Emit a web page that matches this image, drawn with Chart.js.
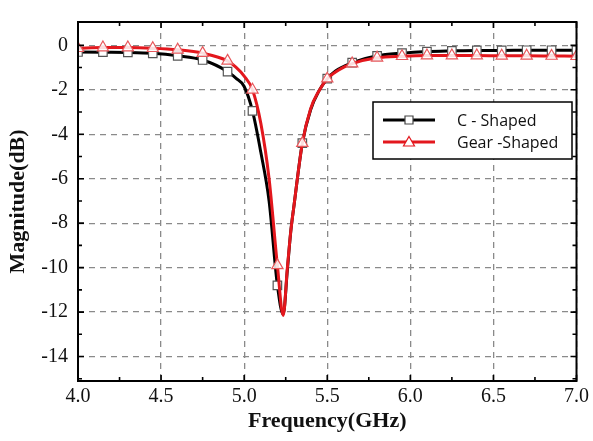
<!DOCTYPE html>
<html>
<head>
<meta charset="utf-8">
<script src="https://cdn.jsdelivr.net/npm/chart.js@4.4.1/dist/chart.umd.min.js"></script>
<style>
  html, body { margin: 0; padding: 0; background: #fff; }
</style>
</head>
<body>
<canvas id="Chart" width="593" height="441"></canvas>
<script>
// frequency points (GHz)
var freq = [4.0, 4.15, 4.3, 4.45, 4.6, 4.75, 4.9, 4.95, 5.0, 5.05, 5.1, 5.15, 5.2, 5.235, 5.26, 5.28, 5.3,
            5.35, 5.4, 5.45, 5.5, 5.55, 5.6, 5.65, 5.8, 5.95, 6.1, 6.25, 6.4, 6.55, 6.7, 6.85, 7.0];

// series 1 : C - Shaped (dB)
var cShaped = [-0.30, -0.31, -0.32, -0.36, -0.47, -0.66, -1.18, -1.48, -1.85, -2.95, -4.8, -7.0, -10.8, -12.1, -10.1, -8.4, -7.2,
               -4.4, -2.9, -2.05, -1.5, -1.15, -0.95, -0.78, -0.47, -0.35, -0.28, -0.25, -0.23, -0.23, -0.22, -0.22, -0.22];

// series 2 : Gear -Shaped (dB)
var gearShaped = [-0.13, -0.10, -0.10, -0.13, -0.20, -0.35, -0.70, -0.98, -1.38, -2.0, -3.5, -6.0, -9.9, -12.15, -10.0, -8.4, -7.2,
                  -4.4, -2.85, -2.05, -1.5, -1.2, -0.98, -0.82, -0.56, -0.49, -0.46, -0.46, -0.46, -0.47, -0.47, -0.48, -0.49];

var seriesNames = ["C - Shaped", "Gear -Shaped"];

// axis ticks
var xTicks = [4.0, 4.5, 5.0, 5.5, 6.0, 6.5, 7.0];
var yTicks = [0, -2, -4, -6, -8, -10, -12, -14];

var black = "#000000";
var red   = "#e3171d";
var gridColor = "#8a8a8a";
var serif = "'Liberation Serif', 'Times New Roman', serif";

// markers only every 0.15 GHz like the original plot
function markerRadius(r) {
  return function (c) {
    var k = (freq[c.dataIndex] - 4.0) / 0.15;
    return Math.abs(k - Math.round(k)) < 1e-6 ? r : 0;
  };
}

function points(vals) {
  return freq.map(function (f, i) { return { x: f, y: vals[i] }; });
}

// inner frame, inward tick marks and the boxed legend
var framePlugin = {
  id: "frame",
  afterDraw: function (chart) {
    var c = chart.ctx, a = chart.chartArea;
    var xs = chart.scales.x, ys = chart.scales.y;
    c.save();
    c.strokeStyle = "#000";
    c.lineWidth = 1.6;
    c.beginPath();
    var i, px, py;
    for (i = 0; i < xTicks.length; i++) {
      px = xs.getPixelForValue(xTicks[i]);
      c.moveTo(px, a.bottom); c.lineTo(px, a.bottom - 6);
      c.moveTo(px, a.top);    c.lineTo(px, a.top + 6);
      if (i < xTicks.length - 1) {
        px = xs.getPixelForValue((xTicks[i] + xTicks[i + 1]) / 2);
        c.moveTo(px, a.bottom); c.lineTo(px, a.bottom - 4);
        c.moveTo(px, a.top);    c.lineTo(px, a.top + 4);
      }
    }
    for (i = 0; i < yTicks.length; i++) {
      py = ys.getPixelForValue(yTicks[i]);
      c.moveTo(a.left, py);  c.lineTo(a.left + 6, py);
      c.moveTo(a.right, py); c.lineTo(a.right - 6, py);
      py = ys.getPixelForValue(yTicks[i] - 1);
      c.moveTo(a.left, py);  c.lineTo(a.left + 4, py);
      c.moveTo(a.right, py); c.lineTo(a.right - 4, py);
    }
    c.stroke();
    c.lineWidth = 2;
    c.strokeRect(a.left, a.top, a.right - a.left, a.bottom - a.top);

    // legend
    var lx = 373, ly = 102, lw = 199, lh = 57;
    c.fillStyle = "#fff";
    c.fillRect(lx, ly, lw, lh);
    c.lineWidth = 1.5;
    c.strokeRect(lx, ly, lw, lh);
    var rows = [ { y: 120, color: black, mark: "rect", edge: "#444" },
                 { y: 142, color: red,   mark: "tri",  edge: red } ];
    c.font = "16px 'Open Sans', 'Noto Sans', sans-serif";
    c.textBaseline = "middle";
    c.textAlign = "left";
    rows.forEach(function (r, k) {
      c.strokeStyle = r.color;
      c.lineWidth = 3;
      c.beginPath(); c.moveTo(383, r.y); c.lineTo(435, r.y); c.stroke();
      c.fillStyle = "#fff";
      c.strokeStyle = r.edge;
      c.lineWidth = 1.2;
      c.beginPath();
      if (r.mark === "rect") {
        c.rect(405, r.y - 4, 8, 8);
      } else {
        c.moveTo(409, r.y - 5.5); c.lineTo(414.5, r.y + 4); c.lineTo(403.5, r.y + 4); c.closePath();
      }
      c.fill(); c.stroke();
      c.fillStyle = "#111";
      c.fillText(seriesNames[k], 457, r.y + 1);
    });
    c.restore();
  }
};

var ctx = document.getElementById("Chart").getContext("2d");
var myChart = new Chart(ctx, {
  type: "line",
  data: {
    datasets: [
      {
        label: seriesNames[0],
        data: points(cShaped),
        borderColor: black,
        borderWidth: 3,
        cubicInterpolationMode: "monotone",
        pointStyle: "rect",
        pointRadius: markerRadius(6),
        pointBackgroundColor: "#fff",
        pointBorderColor: "#555",
        pointBorderWidth: 1.2,
        order: 2
      },
      {
        label: seriesNames[1],
        data: points(gearShaped),
        borderColor: red,
        borderWidth: 3,
        cubicInterpolationMode: "monotone",
        pointStyle: "triangle",
        pointRadius: markerRadius(6.5),
        pointBackgroundColor: "rgba(255,255,255,0.85)",
        pointBorderColor: "#e8585c",
        pointBorderWidth: 1.2,
        order: 1
      }
    ]
  },
  options: {
    responsive: false,
    animation: false,
    layout: { padding: { top: 8, right: 14, left: 0, bottom: 0 } },
    plugins: {
      legend: { display: false },
      tooltip: { enabled: false }
    },
    scales: {
      x: {
        type: "linear",
        min: 4,
        max: 7,
        afterBuildTicks: function (s) { s.ticks = xTicks.map(function (v) { return { value: v }; }); },
        afterFit: function (s) { s.height = 60; },
        grid: { color: gridColor, lineWidth: 1.3, drawTicks: false },
        border: { display: false, dash: [6, 5] },
        ticks: {
          padding: 4,
          maxRotation: 0,
          color: "#111",
          font: { family: serif, size: 20 },
          callback: function (v) { return Number(v).toFixed(1); }
        },
        title: {
          display: true,
          text: "Frequency(GHz)",
          color: "#111",
          font: { family: serif, size: 22, weight: "bold" },
          padding: { top: 0, bottom: 6 }
        }
      },
      y: {
        min: -15.1,
        max: 1.05,
        afterBuildTicks: function (s) { s.ticks = yTicks.map(function (v) { return { value: v }; }); },
        afterFit: function (s) { s.width = 78; },
        grid: { color: gridColor, lineWidth: 1.3, drawTicks: false },
        border: { display: false, dash: [6, 5] },
        ticks: {
          padding: 10,
          color: "#111",
          font: { family: serif, size: 20 }
        },
        title: {
          display: true,
          text: "Magnitude(dB)",
          color: "#111",
          font: { family: serif, size: 22, weight: "bold" },
          padding: { top: 5, bottom: 0 }
        }
      }
    }
  },
  plugins: [framePlugin]
});
</script>
</body>
</html>
